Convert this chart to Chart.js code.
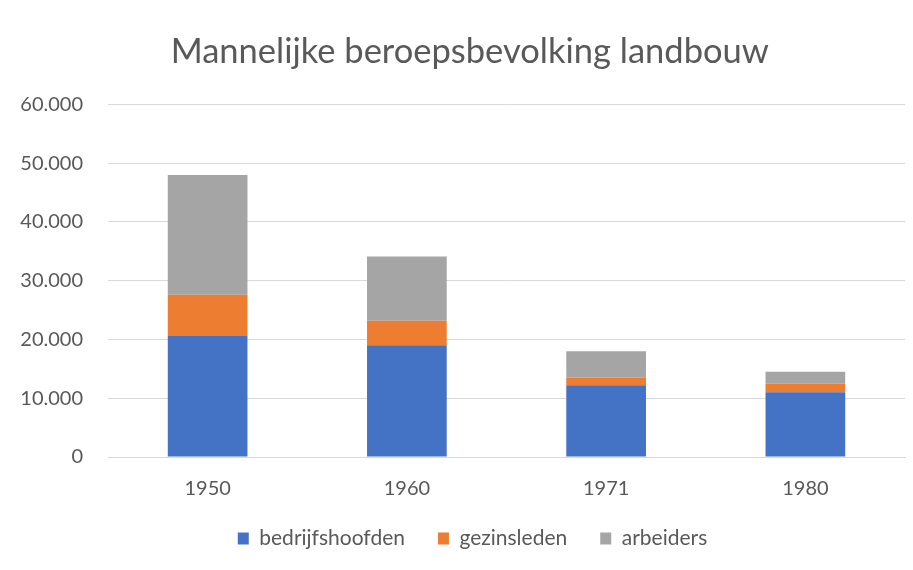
<!DOCTYPE html>
<html><head><meta charset="utf-8">
<script src="https://cdn.jsdelivr.net/npm/chart.js@4/dist/chart.umd.min.js"></script>
<style>html,body{margin:0;padding:0;background:#fff}#wrap{width:913px;height:570px}</style>
</head><body><div id="wrap"><canvas id="c" width="913" height="570"></canvas></div>
<script>
const categories = ['1950', '1960', '1971', '1980'];
const bedrijfshoofden = [20600, 19000, 12200, 11000];
const gezinsleden = [7000, 4200, 1300, 1500];
const arbeiders = [20400, 10900, 4500, 2000];
const yTicks = [0, 10000, 20000, 30000, 40000, 50000, 60000];

const FONT = "'Lato', 'Open Sans', sans-serif";
const fmt = v => String(v).replace(/\B(?=(\d{3})+(?!\d))/g, '.');

const shiftLegend = {
  id: 'shiftLegend',
  afterLayout(chart) {
    if (chart.legend) { chart.legend.left += 20; chart.legend.right += 20; }
  }
};

new Chart(document.getElementById('c'), {
  type: 'bar',
  data: {
    labels: categories,
    datasets: [
      {label: 'bedrijfshoofden', data: bedrijfshoofden, backgroundColor: '#4472C4'},
      {label: 'gezinsleden', data: gezinsleden, backgroundColor: '#ED7D31'},
      {label: 'arbeiders', data: arbeiders, backgroundColor: '#A5A5A5'}
    ]
  },
  plugins: [shiftLegend],
  options: {
    responsive: false,
    animation: false,
    maintainAspectRatio: false,
    layout: {padding: {left: 0, right: 8, top: 31, bottom: 11}},
    datasets: {bar: {barPercentage: 0.4, categoryPercentage: 1.0}},
    plugins: {
      title: {display: true, text: '\u2002\u2002Mannelijke beroepsbevolking landbouw', color: '#595959',
        font: {family: FONT, size: 34.5, weight: 'normal'}, padding: {top: 0, bottom: 32}},
      legend: {position: 'bottom', labels: {color: '#595959', font: {family: FONT, size: 21},
        boxWidth: 11, boxHeight: 12, padding: 33, useBorderRadius: false}},
      tooltip: {enabled: false}
    },
    scales: {
      x: {stacked: true,
        grid: {display: false, drawTicks: false},
        border: {display: true, color: '#d9d9d9'},
        afterFit: s => { s.height -= 26; },
        ticks: {color: '#595959', font: {family: FONT, size: 20}, padding: 20}},
      y: {stacked: true, min: 0, max: 60000,
        afterBuildTicks: s => { s.ticks = yTicks.map(v => ({value: v})); },
        afterFit: s => { s.width = 108; },
        grid: {color: '#d9d9d9', drawTicks: false},
        border: {display: false},
        ticks: {color: '#595959', font: {family: FONT, size: 20}, padding: 25,
          callback: v => fmt(v)}}
    }
  }
});
</script></body></html>
